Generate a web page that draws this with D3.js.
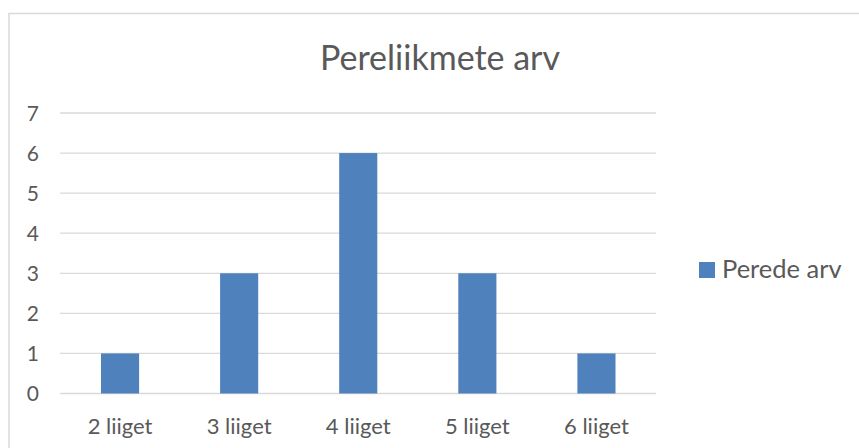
<!DOCTYPE html>
<html><head><meta charset="utf-8">
<script src="https://cdn.jsdelivr.net/npm/d3@7"></script>
<style>body{margin:0;background:#fff}svg{display:block}text{font-family:Lato,"Open Sans",sans-serif;fill:#595959}</style>
</head><body><svg id="c" width="859" height="448"></svg>
<script>
const categories = ["2 liiget","3 liiget","4 liiget","5 liiget","6 liiget"];
const values = [1,3,6,3,1];
const yTicks = [0,1,2,3,4,5,6,7];
const seriesName = "Perede arv";
const title = "Pereliikmete arv";

const svg = d3.select("#c");
svg.append("rect").attr("x",9).attr("y",13.5).attr("width",900).attr("height",500)
  .attr("fill","#fff").attr("stroke","#d9d9d9").attr("stroke-width",1.5);

const x = d3.scaleBand().domain(categories).range([60.5,656]).paddingInner(0.68).paddingOuter(0.34);
const y = d3.scaleLinear().domain([0,7]).range([393.5,113]);

svg.append("g").selectAll("line").data(yTicks).join("line")
  .attr("x1",60).attr("x2",656).attr("y1",d=>y(d)).attr("y2",d=>y(d))
  .attr("stroke","#d9d9d9").attr("stroke-width",1.3);

svg.append("g").selectAll("text").data(yTicks).join("text")
  .attr("x",39).attr("y",d=>y(d)).attr("dy","0.36em").attr("text-anchor","end")
  .attr("font-size",21).text(d=>d);

svg.append("g").selectAll("rect").data(values).join("rect")
  .attr("x",(d,i)=>x(categories[i])).attr("width",x.bandwidth())
  .attr("y",d=>y(d)).attr("height",d=>y(0)-y(d)).attr("fill","#4f81bd");

svg.append("g").selectAll("text").data(categories).join("text")
  .attr("x",d=>x(d)+x.bandwidth()/2).attr("y",434).attr("text-anchor","middle")
  .attr("font-size",22).text(d=>d);

svg.append("text").attr("x",440).attr("y",70).attr("text-anchor","middle")
  .attr("font-size",34).text(title);

svg.append("rect").attr("x",699).attr("y",262).attr("width",16).attr("height",16).attr("fill","#4f81bd");
svg.append("text").attr("x",722).attr("y",278).attr("font-size",25.5).text(seriesName);
</script></body></html>
